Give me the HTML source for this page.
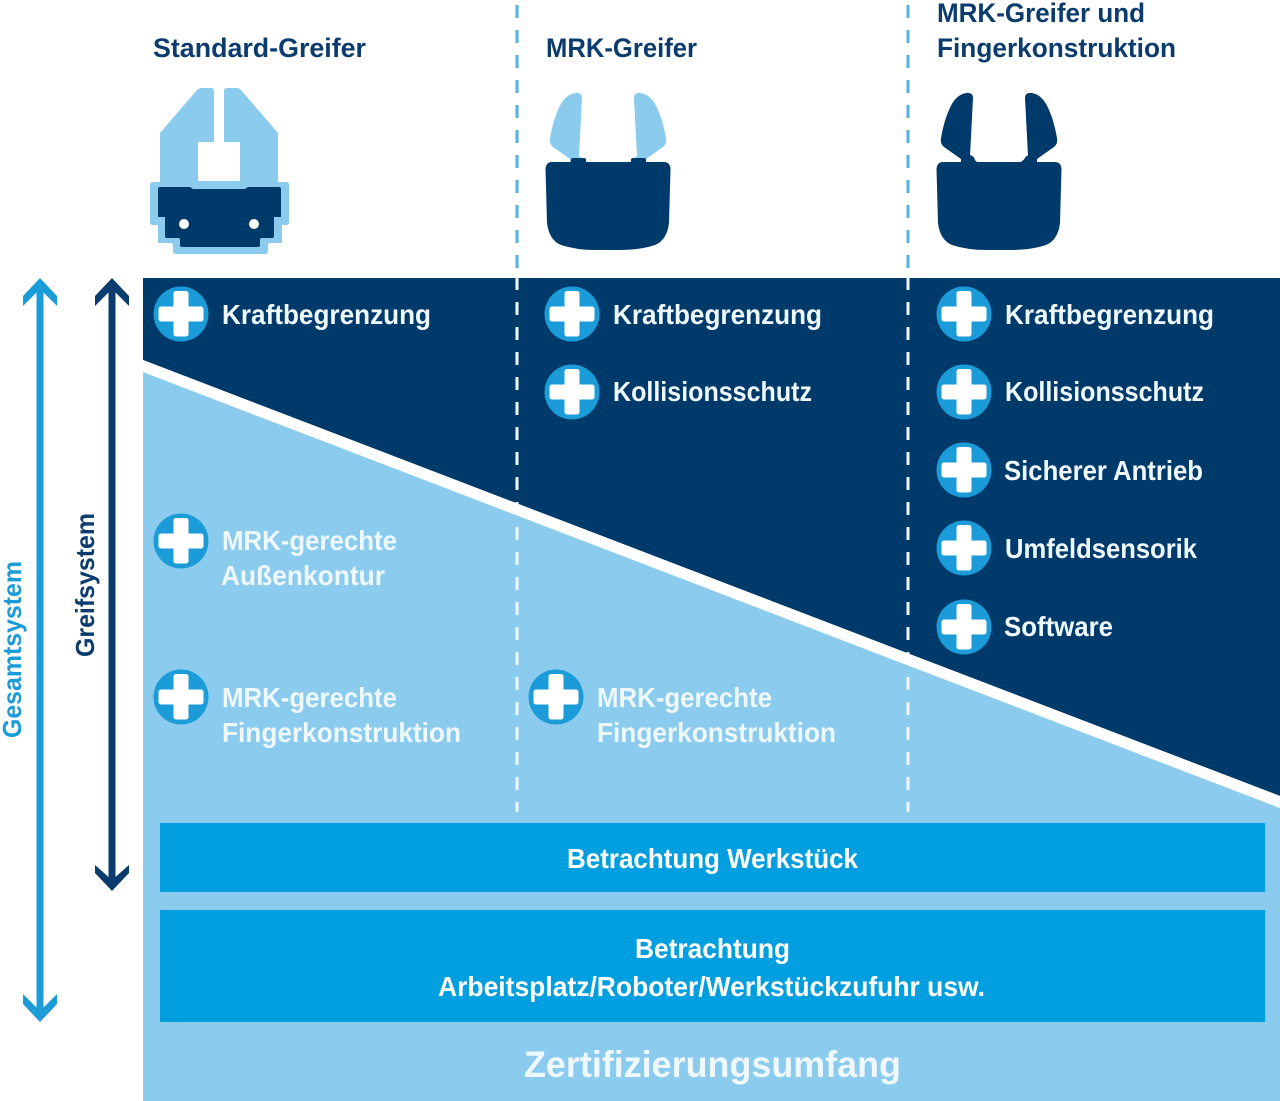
<!DOCTYPE html>
<html lang="de"><head><meta charset="utf-8"><title>Greifer</title>
<style>
html,body{margin:0;padding:0;background:#fff}
svg{display:block}
text{font-family:"Liberation Sans",sans-serif;font-weight:700;font-size:28px;fill:#fff;filter:blur(.35px)}
.h{fill:#0b3c6d;font-size:27px}
.l{fill:#eef8fd}
</style></head><body>
<svg xmlns="http://www.w3.org/2000/svg" xmlns:xlink="http://www.w3.org/1999/xlink" width="1280" height="1101" viewBox="0 0 1280 1101">
<defs>
<g id="p"><circle r="27.5" fill="#1b9bd7"/><path d="M-7.5-20.500a2.500 2.500 0 0 1 2.500-2.500h10a2.500 2.500 0 0 1 2.500 2.500V-7.500H20a2.500 2.500 0 0 1 2.500 2.500V5A2.500 2.500 0 0 1 20 7.500H7.500V20A2.500 2.500 0 0 1 5 22.500H-5A2.500 2.500 0 0 1-7.500 20V7.500H-20A2.500 2.500 0 0 1-22.500 5V-5A2.500 2.500 0 0 1-20-7.500H-7.500Z" fill="#fff"/></g>
<path id="body" d="M552 162H664Q670 162 670.500 169L669 223Q667 240 655 245Q640 250 620 250H596Q576 250 561 245Q549 240 547 223L545.500 169Q546 162 552 162Z"/>
<path id="fl" d="M575 93Q582 92 582 98L579 156L586 162H570V159L553 147Q549 144 550 138Q553 121 558 110Q564 95 575 93Z"/>
<path id="fr" d="M641 93Q634 92 634 98L637 156L630 162H646V159L663 147Q667 144 666 138Q663 121 658 110Q652 95 641 93Z"/>
</defs>
<rect width="1280" height="1101" fill="#fff"/>
<polygon points="143,278 1280,278 1280,796 143,360" fill="#003a6b"/>
<polygon points="143,372 1280,808 1280,1101 143,1101" fill="#8acbee"/>
<rect x="160" y="823" width="1105" height="69" fill="#019fe0"/>
<rect x="160" y="910" width="1105" height="112" fill="#019fe0"/>
<g fill="none" stroke-width="3" stroke-dasharray="13 12">
<path d="M517 5V269M908 5V269" stroke="#52b3e3"/>
<path d="M517 277V812M908 277V812" stroke="#eef6fb"/>
</g>
<polygon points="143,360 1280,796 1280,808 143,372" fill="#fff"/>
<!-- arrows -->
<g fill="#1b9bd7"><rect x="36.500" y="284" width="7" height="732"/>
<polygon points="40,278 57,296 57,306 40,289 23,306 23,296"/><polygon points="40,1022 57,1004 57,994 40,1011 23,994 23,1004"/></g>
<g fill="#0b3c6d"><rect x="108.500" y="284" width="7" height="600"/>
<polygon points="112,278 129,296 129,306 112,289 95,306 95,296"/><polygon points="112,891 129,873 129,865 112,880 95,865 95,873"/></g>
<text class="h" transform="translate(21,738) rotate(-90)" textLength="177" lengthAdjust="spacingAndGlyphs" style="fill:#1b9bd7;font-size:26px">Gesamtsystem</text>
<text class="h" transform="translate(94,657) rotate(-90)" textLength="144" lengthAdjust="spacingAndGlyphs" style="font-size:26px">Greifsystem</text>
<!-- headers -->
<text class="h" x="153" y="57" textLength="213" lengthAdjust="spacingAndGlyphs">Standard-Greifer</text>
<text class="h" x="546" y="57" textLength="151" lengthAdjust="spacingAndGlyphs">MRK-Greifer</text>
<text class="h" x="937" y="22" textLength="208" lengthAdjust="spacingAndGlyphs">MRK-Greifer und</text>
<text class="h" x="937" y="57" textLength="239" lengthAdjust="spacingAndGlyphs">Fingerkonstruktion</text>
<!-- gripper 1 -->
<path fill="#8acbee" d="M197 90Q199 88 202 88H211Q214 88 214 91V142H198V181H240V142H224V91Q224 88 227 88H236Q239 88 241 90L278 133V182H286Q289 182 289 185V222Q289 225 286 225H282V243H270Q268 243 268 246V251Q268 254 265 254H176Q173 254 173 251V246Q173 243 170 243H158V225H153Q150 225 150 222V185Q150 182 153 182H160V133Z"/>
<path fill="#003a6b" d="M160 187H190L193 189H245L248 187H279Q281 187 281 189V217H274V236Q274 238 272 238H262Q260 238 260 240V245Q260 247 258 247H182Q180 247 180 245V240Q180 238 178 238H167Q165 238 165 236V217H158V189Q158 187 160 187Z"/>
<circle cx="184" cy="224" r="5" fill="#fff"/><circle cx="254" cy="224" r="5" fill="#fff"/>
<!-- gripper 2 -->
<use xlink:href="#fl" href="#fl" fill="#8acbee"/><use xlink:href="#fr" href="#fr" fill="#8acbee"/>
<rect x="571" y="158" width="15" height="6" rx="2" fill="#003a6b"/><rect x="631" y="158" width="15" height="6" rx="2" fill="#003a6b"/>
<use xlink:href="#body" href="#body" fill="#003a6b"/>
<!-- gripper 3 -->
<g transform="translate(391,0)" fill="#003a6b">
<use xlink:href="#fl" href="#fl"/><use xlink:href="#fr" href="#fr"/><use xlink:href="#body" href="#body"/>
<circle cx="578" cy="161" r="6"/><circle cx="639" cy="161" r="6"/>
</g>
<!-- plus icons -->
<use href="#p" x="181" y="314"/><use href="#p" x="572" y="314"/><use href="#p" x="964" y="314"/>
<use href="#p" x="572" y="392"/><use href="#p" x="964" y="392"/>
<use href="#p" x="964" y="470"/><use href="#p" x="964" y="548"/><use href="#p" x="964" y="627"/>
<use href="#p" x="181" y="541"/><use href="#p" x="181" y="697"/><use href="#p" x="556" y="697"/>
<!-- labels -->
<text class="l" x="222" y="324" textLength="209" lengthAdjust="spacingAndGlyphs">Kraftbegrenzung</text>
<text class="l" x="613" y="324" textLength="209" lengthAdjust="spacingAndGlyphs">Kraftbegrenzung</text>
<text class="l" x="1005" y="324" textLength="209" lengthAdjust="spacingAndGlyphs">Kraftbegrenzung</text>
<text class="l" x="613" y="401" textLength="199" lengthAdjust="spacingAndGlyphs">Kollisionsschutz</text>
<text class="l" x="1005" y="401" textLength="199" lengthAdjust="spacingAndGlyphs">Kollisionsschutz</text>
<text class="l" x="1004" y="480" textLength="199" lengthAdjust="spacingAndGlyphs">Sicherer Antrieb</text>
<text class="l" x="1005" y="558" textLength="192" lengthAdjust="spacingAndGlyphs">Umfeldsensorik</text>
<text class="l" x="1004" y="636" textLength="109" lengthAdjust="spacingAndGlyphs">Software</text>
<text class="l" x="222" y="550" textLength="175" lengthAdjust="spacingAndGlyphs">MRK-gerechte</text>
<text class="l" x="221" y="585" textLength="164" lengthAdjust="spacingAndGlyphs">Außenkontur</text>
<text class="l" x="222" y="707" textLength="175" lengthAdjust="spacingAndGlyphs">MRK-gerechte</text>
<text class="l" x="222" y="742" textLength="239" lengthAdjust="spacingAndGlyphs">Fingerkonstruktion</text>
<text class="l" x="597" y="707" textLength="175" lengthAdjust="spacingAndGlyphs">MRK-gerechte</text>
<text class="l" x="597" y="742" textLength="239" lengthAdjust="spacingAndGlyphs">Fingerkonstruktion</text>
<text x="567" y="868" textLength="291" lengthAdjust="spacingAndGlyphs">Betrachtung Werkstück</text>
<text x="635" y="958" textLength="155" lengthAdjust="spacingAndGlyphs">Betrachtung</text>
<text x="438" y="996" textLength="547" lengthAdjust="spacingAndGlyphs">Arbeitsplatz/Roboter/Werkstückzufuhr usw.</text>
<text class="l" x="524" y="1077" textLength="377" lengthAdjust="spacingAndGlyphs" style="font-size:37px">Zertifizierungsumfang</text>
</svg>
</body></html>
